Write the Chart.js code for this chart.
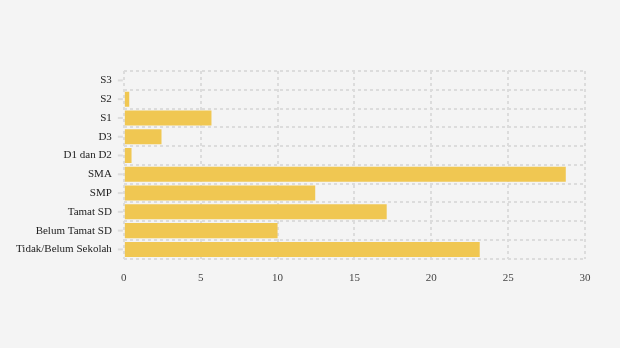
<!DOCTYPE html>
<html>
<head>
<meta charset="utf-8">
<script src="https://cdn.jsdelivr.net/npm/chart.js@4"></script>
<style>
html,body{margin:0;padding:0;background:#f4f4f4;}
#wrap{width:620px;height:348px;position:relative;}
</style>
</head>
<body>
<div id="wrap"><canvas id="c" width="620" height="348"></canvas></div>
<script>
const categories = ["S3","S2","S1","D3","D1 dan D2","SMA","SMP","Tamat SD","Belum Tamat SD","Tidak/Belum Sekolah"];
const values = [0, 0.35, 5.7, 2.45, 0.5, 28.75, 12.45, 17.1, 10.0, 23.15];
const xTicks = [0,5,10,15,20,25,30];

const tickMarks = {
  id:'tickMarks',
  afterDatasetsDraw(chart){
    const y = chart.scales.y, ctx = chart.ctx, left = chart.chartArea.left;
    ctx.save();
    ctx.strokeStyle = '#dcdcdc';
    ctx.lineWidth = 2;
    y.ticks.forEach((t,i)=>{
      const py = y.getPixelForTick(i);
      ctx.beginPath(); ctx.moveTo(left-6, py); ctx.lineTo(left-1, py); ctx.stroke();
    });
    ctx.restore();
  }
};

new Chart(document.getElementById('c'), {
  type:'bar',
  data:{labels:categories, datasets:[{data:values, backgroundColor:'#f0c752', barPercentage:0.8, categoryPercentage:1.0}]},
  options:{
    indexAxis:'y',
    responsive:false,
    animation:false,
    layout:{padding:{top:71, bottom:50, left:4, right:35}},
    plugins:{legend:{display:false}, tooltip:{enabled:false}},
    scales:{
      x:{min:0,max:30,
        afterBuildTicks(s){ s.ticks = xTicks.map(v=>({value:v})); },
        grid:{color:'#dcdcdc', lineWidth:2, drawTicks:false},
        border:{display:false, dash:[3,3]},
        ticks:{color:'#444', font:{family:'Liberation Serif', size:11}, padding:13}
      },
      y:{
        grid:{color:'#dcdcdc', lineWidth:2, offset:true, drawTicks:false},
        border:{display:false, dash:[3,3]},
        ticks:{color:'#222', font:{family:'Liberation Serif', size:11}, padding:12}
      }
    }
  },
  plugins:[tickMarks]
});
</script>
</body>
</html>
